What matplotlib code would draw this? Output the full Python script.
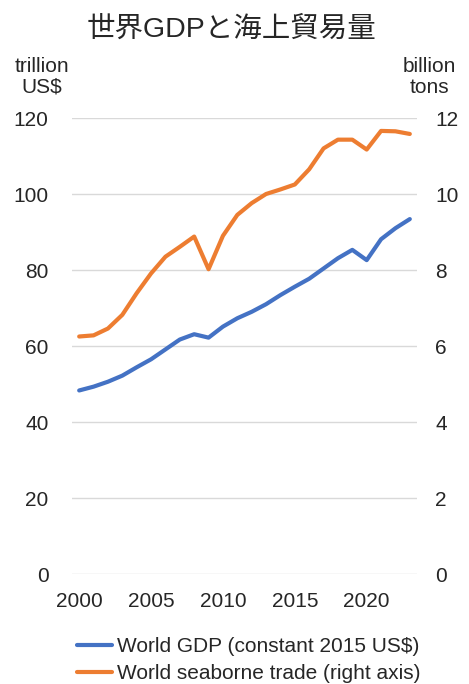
import matplotlib.pyplot as plt
import numpy as np

plt.rcParams['font.family'] = ['Liberation Sans', 'Noto Sans CJK JP', 'DejaVu Sans']

# Data
years = list(range(2000, 2024))
gdp = [48.3, 49.3, 50.6, 52.2, 54.4, 56.5, 59.1, 61.7, 63.1, 62.2,
       65.1, 67.3, 69.0, 71.0, 73.4, 75.6, 77.7, 80.4, 83.1, 85.3,
       82.6, 88.1, 91.0, 93.4]
trade = [6.25, 6.28, 6.46, 6.82, 7.39, 7.91, 8.35, 8.61, 8.88, 8.02,
         8.90, 9.45, 9.76, 10.0, 10.12, 10.25, 10.65, 11.2, 11.43, 11.43,
         11.17, 11.66, 11.65, 11.58]
left_ticks = [0, 20, 40, 60, 80, 100, 120]
right_ticks = [0, 2, 4, 6, 8, 10, 12]
x_ticks = [2000, 2005, 2010, 2015, 2020]

title = '世界GDPと海上貿易量'
gdp_label = 'World GDP (constant 2015 US$)'
trade_label = 'World seaborne trade (right axis)'

blue = '#4472C4'
orange = '#ED7D31'
txt = '#262626'

fig = plt.figure(figsize=(4.69, 6.84), dpi=100)
ax = fig.add_axes([72/469, 1-574/684, (417-72)/469, (574-118)/684])
ax2 = ax.twinx()

l1, = ax.plot(years, gdp, color=blue, lw=3, solid_capstyle='round', zorder=3)
l2, = ax2.plot(years, trade, color=orange, lw=3, solid_capstyle='round', zorder=3)

ax.set_ylim(0, 120)
ax2.set_ylim(0, 12)
ax.set_xlim(1999.5, 2023.5)
ax.set_yticks(left_ticks)
ax2.set_yticks(right_ticks)
ax.set_xticks(x_ticks)
ax.grid(axis='y', color='#d9d9d9', lw=1)
ax.set_axisbelow(True)

for a in (ax, ax2):
    for s in a.spines.values():
        s.set_visible(False)
    a.tick_params(length=0, labelsize=15, colors=txt)
ax.tick_params(axis='y', pad=17)
ax2.tick_params(axis='y', pad=13)
ax.tick_params(axis='x', pad=13)

fig.text(231/469, 1-30/684, title, ha='center', va='center', fontsize=20.5, color=txt)
fig.text(42/469, 1-77/684, 'trillion\nUS$', ha='center', va='center', fontsize=15,
         color=txt, linespacing=1.1)
fig.text(429/469, 1-77/684, 'billion\ntons', ha='center', va='center', fontsize=15,
         color=txt, linespacing=1.1)

fig.legend([l1, l2], [gdp_label, trade_label], loc='upper left',
           bbox_to_anchor=(77/469, 1-637/684), frameon=False, fontsize=15,
           handlelength=1.7, handletextpad=0.2, labelspacing=0.4,
           labelcolor=txt, borderaxespad=0, borderpad=0)

fig.savefig('out.png', dpi=100)
